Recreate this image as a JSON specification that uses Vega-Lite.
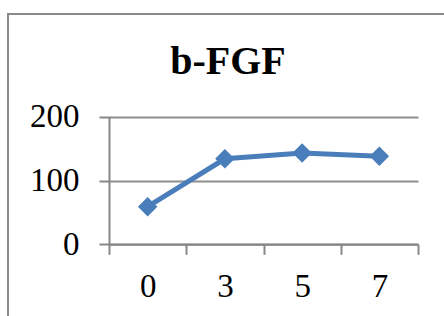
{
  "$schema": "https://vega.github.io/schema/vega-lite/v6.json",
  "autosize": {"type": "none"},
  "padding": {"left": 8, "top": 14, "right": 0, "bottom": 0},
  "width": 440,
  "height": 320,
  "background": "white",
  "config": {
    "view": {"stroke": "#8a8a8a", "strokeWidth": 2},
    "font": "Liberation Serif"
  },
  "title": {
    "text": "b-FGF",
    "font": "Liberation Serif",
    "fontSize": 40,
    "fontWeight": "bold",
    "color": "black",
    "anchor": "middle",
    "frame": "group",
    "baseline": "alphabetic",
    "offset": 0,
    "dy": 100
  },
  "data": {
    "values": [
      {"day": "0", "value": 59},
      {"day": "3", "value": 134},
      {"day": "5", "value": 143},
      {"day": "7", "value": 138}
    ]
  },
  "encoding": {
    "x": {
      "field": "day",
      "type": "ordinal",
      "sort": null,
      "scale": {"type": "band", "range": [101, 410], "paddingInner": 0, "paddingOuter": 0},
      "axis": {
        "title": null,
        "orient": "bottom",
        "offset": -89.7,
        "labelAngle": 0,
        "labelFont": "Liberation Serif",
        "labelFontSize": 33,
        "labelColor": "black",
        "labelPadding": 16,
        "tickBand": "extent",
        "tickSize": 10,
        "tickColor": "#868686",
        "tickWidth": 2,
        "domainColor": "#868686",
        "domainWidth": 2,
        "grid": false
      }
    },
    "y": {
      "field": "value",
      "type": "quantitative",
      "scale": {"domain": [0, 200], "range": [230.3, 102.7], "nice": false},
      "axis": {
        "title": null,
        "orient": "left",
        "offset": -101,
        "values": [0, 100, 200],
        "labelFont": "Liberation Serif",
        "labelFontSize": 33,
        "labelColor": "black",
        "labelPadding": 20,
        "tickSize": 10,
        "tickColor": "#868686",
        "tickWidth": 2,
        "domainColor": "#868686",
        "domainWidth": 2,
        "grid": true,
        "gridColor": "#8e8e8e",
        "gridWidth": 2
      }
    }
  },
  "layer": [
    {"mark": {"type": "line", "color": "#4a7ebb", "strokeWidth": 5}},
    {"mark": {"type": "point", "shape": "diamond", "filled": true, "opacity": 1, "color": "#4a7ebb", "size": 380}}
  ]
}
